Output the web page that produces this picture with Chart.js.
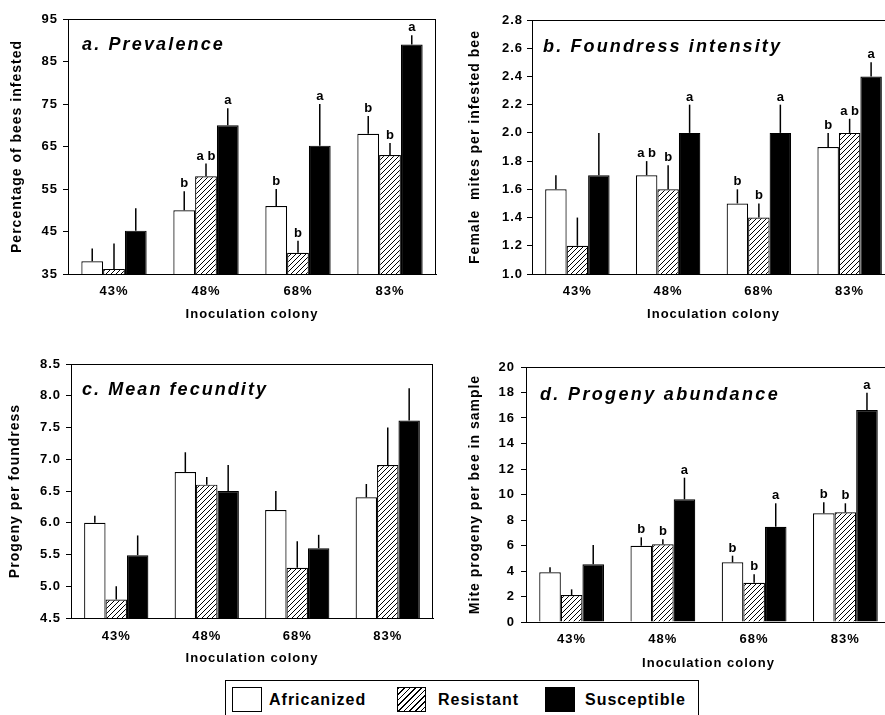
<!DOCTYPE html>
<html><head><meta charset="utf-8">
<script src="https://cdn.jsdelivr.net/npm/chart.js@4.4.0/dist/chart.umd.min.js"></script>
<style>
html,body{margin:0;padding:0;width:885px;height:715px;overflow:hidden;background:#fff;}
canvas{position:absolute;}
#legend{position:absolute;left:225px;top:680px;width:472px;height:45px;border:1px solid #000;font-family:"Liberation Sans",Arial,sans-serif;font-weight:bold;font-size:16px;letter-spacing:1px;color:#000;}
.sw{position:absolute;top:6px;height:25px;border:1px solid #000;box-sizing:border-box;}
.lt{position:absolute;top:10px;line-height:18px;white-space:nowrap;}
</style>
</head><body>
<canvas id="cA" width="440" height="330" style="left:0;top:0"></canvas>
<canvas id="cB" width="460" height="330" style="left:440px;top:0"></canvas>
<canvas id="cC" width="440" height="345" style="left:0;top:330px"></canvas>
<canvas id="cD" width="460" height="345" style="left:440px;top:330px"></canvas>
<div id="legend">
  <div class="sw" style="left:6px;width:30px;background:#fff"></div>
  <div class="lt" style="left:43px">Africanized</div>
  <div class="sw" style="left:171px;width:29px;background:repeating-linear-gradient(135deg,#000 0 1px,#fff 1px 4px)"></div>
  <div class="lt" style="left:212px">Resistant</div>
  <div class="sw" style="left:319px;width:30px;background:#000"></div>
  <div class="lt" style="left:359px">Susceptible</div>
</div>
<script>
// ---------- data ----------
const categories = ['43%', '48%', '68%', '83%'];
const seriesNames = ['Africanized', 'Resistant', 'Susceptible'];

// a. Prevalence
const prevAfr = [38, 50, 51, 68];
const prevAfrSE = [3, 4.5, 4, 4.2];
const prevRes = [36.2, 58, 40, 63];
const prevResSE = [6, 3, 2.8, 2.8];
const prevSus = [45.2, 70, 65.2, 89];
const prevSusSE = [5.3, 4, 9.8, 2.2];
const prevLetAfr = ['', 'b', 'b', 'b'];
const prevLetRes = ['', 'a b', 'b', 'b'];
const prevLetSus = ['', 'a', 'a', 'a'];
const prevTicks = [35, 45, 55, 65, 75, 85, 95];

// b. Foundress intensity
const foundAfr = [1.6, 1.7, 1.5, 1.9];
const foundAfrSE = [0.1, 0.1, 0.1, 0.1];
const foundRes = [1.2, 1.6, 1.4, 2.0];
const foundResSE = [0.2, 0.17, 0.1, 0.1];
const foundSus = [1.7, 2.0, 2.0, 2.4];
const foundSusSE = [0.3, 0.2, 0.2, 0.1];
const foundLetAfr = ['', 'a b', 'b', 'b'];
const foundLetRes = ['', 'b', 'b', 'a b'];
const foundLetSus = ['', 'a', 'a', 'a'];
const foundTicks = [1.0, 1.2, 1.4, 1.6, 1.8, 2.0, 2.2, 2.4, 2.6, 2.8];

// c. Mean fecundity
const fecAfr = [6.0, 6.8, 6.2, 6.4];
const fecAfrSE = [0.11, 0.31, 0.3, 0.21];
const fecRes = [4.79, 6.6, 5.29, 6.91];
const fecResSE = [0.21, 0.12, 0.42, 0.59];
const fecSus = [5.49, 6.5, 5.6, 7.61];
const fecSusSE = [0.31, 0.41, 0.21, 0.51];
const fecLetAfr = ['', '', '', ''];
const fecLetRes = ['', '', '', ''];
const fecLetSus = ['', '', '', ''];
const fecTicks = [4.5, 5.0, 5.5, 6.0, 6.5, 7.0, 7.5, 8.0, 8.5];

// d. Progeny abundance
const progAfr = [3.9, 5.98, 4.68, 8.52];
const progAfrSE = [0.39, 0.66, 0.52, 0.87];
const progRes = [2.12, 6.09, 3.08, 8.6];
const progResSE = [0.44, 0.41, 0.66, 0.71];
const progSus = [4.52, 9.62, 7.47, 16.63];
const progSusSE = [1.52, 1.7, 1.84, 1.35];
const progLetAfr = ['', 'b', 'b', 'b'];
const progLetRes = ['', 'b', 'b', 'b'];
const progLetSus = ['', 'a', 'a', 'a'];
const progTicks = [0, 2, 4, 6, 8, 10, 12, 14, 16, 18, 20];

const panelTitles = ['a. Prevalence', 'b. Foundress intensity', 'c. Mean fecundity', 'd. Progeny abundance'];
const yTitles = ['Percentage of bees infested', 'Female  mites per infested bee', 'Progeny per foundress', 'Mite progeny per bee in sample'];
const xTitle = 'Inoculation colony';

// ---------- drawing ----------
const FONT = '"Liberation Sans", Arial, sans-serif';
function hatch() {
  const c = document.createElement('canvas'); c.width = 5; c.height = 5;
  const x = c.getContext('2d');
  x.fillStyle = '#fff'; x.fillRect(0, 0, 5, 5);
  x.strokeStyle = '#000'; x.lineWidth = 1;
  x.beginPath();
  x.moveTo(0, 5); x.lineTo(5, 0);
  x.moveTo(-1, 1); x.lineTo(1, -1);
  x.moveTo(4, 6); x.lineTo(6, 4);
  x.stroke();
  return x.createPattern(c, 'repeat');
}

const spacingPlugin = {
  id: 'spacing',
  beforeUpdate(chart) { chart.ctx.letterSpacing = '1px'; },
  beforeDraw(chart) { chart.ctx.letterSpacing = '1px'; }
};

const extrasPlugin = {
  id: 'extras',
  afterDatasetsDraw(chart) {
    const ctx = chart.ctx, o = chart.options.plugins.extras;
    const ys = chart.scales.y, ca = chart.chartArea;
    ctx.save();
    ctx.strokeStyle = '#000'; ctx.lineWidth = 1;
    ctx.strokeRect(ca.left + 0.5, ca.top + 0.5, ca.right - ca.left - 1, ca.bottom - ca.top);
    chart.data.datasets.forEach((ds, i) => {
      const meta = chart.getDatasetMeta(i);
      meta.data.forEach((el, j) => {
        const v = ds.data[j], se = o.se[i][j];
        const y1 = ys.getPixelForValue(v + se);
        ctx.strokeStyle = '#000'; ctx.lineWidth = 1.5;
        ctx.beginPath(); ctx.moveTo(el.x, el.y); ctx.lineTo(el.x, y1); ctx.stroke();
        const t = o.letters[i][j];
        if (t) {
          ctx.letterSpacing = '0px';
          ctx.font = 'bold 13px ' + FONT;
          ctx.fillStyle = '#000'; ctx.textAlign = 'center'; ctx.textBaseline = 'alphabetic';
          ctx.fillText(t, el.x, y1 - 4);
        }
      });
    });
    ctx.font = 'italic bold 18px ' + FONT;
    ctx.letterSpacing = '0px';
    const w0 = ctx.measureText(o.title).width;
    const sp = Math.max(0, (o.titleW - w0) / o.title.length);
    ctx.letterSpacing = sp.toFixed(2) + 'px';
    ctx.fillStyle = '#000'; ctx.textAlign = 'left'; ctx.textBaseline = 'middle';
    ctx.fillText(o.title, ca.left + o.titleDx, ca.top + o.titleDy);
    ctx.restore();
  }
};

function makePanel(id, g, vals, ses, lets, ticks, dec, title, yTitle) {
  const ctx = document.getElementById(id).getContext('2d');
  const pat = hatch();
  const lh = 13 * 1.2, lhy = 14 * 1.2;
  new Chart(ctx, {
    type: 'bar',
    data: {
      labels: categories,
      datasets: [
        { label: seriesNames[0], data: vals[0], backgroundColor: '#fff', borderColor: '#000', borderWidth: 1.2 },
        { label: seriesNames[1], data: vals[1], backgroundColor: pat, borderColor: '#000', borderWidth: 1.2 },
        { label: seriesNames[2], data: vals[2], backgroundColor: '#000', borderColor: '#000', borderWidth: 1.2 }
      ]
    },
    options: {
      responsive: false, animation: false, devicePixelRatio: 1,
      layout: { padding: { left: 0, top: g.T, right: g.W - g.R, bottom: 0 } },
      datasets: { bar: { categoryPercentage: 0.71, barPercentage: 1.0 } },
      plugins: {
        legend: { display: false }, tooltip: { enabled: false },
        extras: { se: ses, letters: lets, title: title, titleW: g.tw, titleDx: g.tdx, titleDy: g.tdy }
      },
      scales: {
        x: {
          afterFit(s) { s.height = g.H - g.B; },
          grid: { display: false },
          border: { display: true, color: '#000', width: 1 },
          ticks: { color: '#000', font: { family: FONT, weight: 'bold', size: 13 }, padding: Math.max(0, g.xt - g.B - lh / 2 - 7), maxRotation: 0 },
          title: { display: true, text: xTitle, color: '#000', font: { family: FONT, weight: 'bold', size: 13 }, padding: { top: 0, bottom: g.H - g.xT - lh / 2 } }
        },
        y: {
          min: ticks[0], max: ticks[ticks.length - 1],
          afterBuildTicks(s) { s.ticks = ticks.map(v => ({ value: v })); },
          afterFit(s) { s.width = g.L; },
          grid: { drawOnChartArea: false, drawTicks: true, tickLength: 5, color: '#000' },
          border: { display: true, color: '#000', width: 1 },
          ticks: { color: '#000', font: { family: FONT, weight: 'bold', size: 13 }, padding: g.gap - 5, callback: v => Number(v).toFixed(dec) },
          title: { display: true, text: yTitle, color: '#000', font: { family: FONT, weight: 'bold', size: 14 }, padding: { top: g.yx - lhy / 2, bottom: 0 } }
        }
      }
    },
    plugins: [spacingPlugin, extrasPlugin]
  });
}

makePanel('cA', { W: 440, H: 330, L: 68, R: 436, T: 19, B: 274, yx: 17, gap: 10, xt: 290, xT: 314, tw: 143, tdx: 14, tdy: 26 },
  [prevAfr, prevRes, prevSus], [prevAfrSE, prevResSE, prevSusSE], [prevLetAfr, prevLetRes, prevLetSus], prevTicks, 0, panelTitles[0], yTitles[0]);
makePanel('cB', { W: 460, H: 330, L: 92, R: 455, T: 20, B: 274, yx: 35, gap: 9, xt: 290, xT: 314, tw: 239, tdx: 11, tdy: 27 },
  [foundAfr, foundRes, foundSus], [foundAfrSE, foundResSE, foundSusSE], [foundLetAfr, foundLetRes, foundLetSus], foundTicks, 1, panelTitles[1], yTitles[1]);
makePanel('cC', { W: 440, H: 345, L: 71, R: 433, T: 34, B: 288, yx: 15, gap: 10, xt: 305, xT: 328, tw: 186, tdx: 11, tdy: 26 },
  [fecAfr, fecRes, fecSus], [fecAfrSE, fecResSE, fecSusSE], [fecLetAfr, fecLetRes, fecLetSus], fecTicks, 1, panelTitles[2], yTitles[2]);
makePanel('cD', { W: 460, H: 345, L: 86, R: 451, T: 37, B: 292, yx: 35, gap: 11, xt: 308, xT: 333, tw: 240, tdx: 14, tdy: 28 },
  [progAfr, progRes, progSus], [progAfrSE, progResSE, progSusSE], [progLetAfr, progLetRes, progLetSus], progTicks, 0, panelTitles[3], yTitles[3]);
</script>
</body></html>
